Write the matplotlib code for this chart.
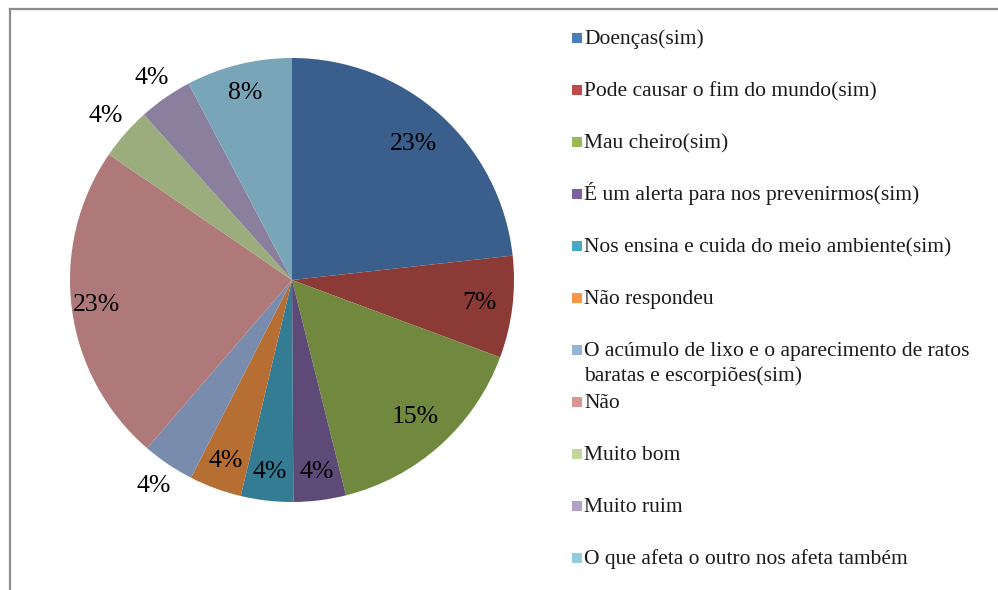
import matplotlib
matplotlib.use("Agg")
import matplotlib.pyplot as plt
import numpy as np
from matplotlib.lines import Line2D
from matplotlib.patches import Rectangle

labels = [
    "Doenças(sim)",
    "Pode causar o fim do mundo(sim)",
    "Mau cheiro(sim)",
    "É um alerta para nos prevenirmos(sim)",
    "Nos ensina e cuida do meio ambiente(sim)",
    "Não respondeu",
    "O acúmulo de lixo e o aparecimento de ratos\nbaratas e escorpiões(sim)",
    "Não",
    "Muito bom",
    "Muito ruim",
    "O que afeta o outro nos afeta também",
]
values = [23.2, 7.4, 15.4, 3.8, 3.8, 3.8, 3.8, 23.2, 3.8, 3.9, 7.7]

wedge_colors = ["#3B5F8C", "#8B3A36", "#71893F", "#5E4A77", "#347C93", "#B76E32",
                "#7A8CAD", "#AE7978", "#9CAD7D", "#8B7F9E", "#78A5B8"]
legend_colors = ["#4A7EBB", "#BE4B48", "#98B954", "#7D60A0", "#46AAC5", "#F79646",
                 "#95B3D7", "#D99694", "#C3D69B", "#B2A2C7", "#93CDDD"]
label_dist = [0.82, 0.85, 0.83, 0.87, 0.87, 0.87, 1.12, 0.89, 1.12, 1.11, 0.87]

W, H = 998, 590
fig = plt.figure(figsize=(W / 100, H / 100), dpi=100)
fig.patch.set_facecolor("white")

cx, cy, R = 292, 280, 222
ax = fig.add_axes([(cx - R) / W, (H - cy - R) / H, 2 * R / W, 2 * R / H])
wedges, _ = ax.pie(values, colors=wedge_colors, startangle=90, counterclock=False,
                   radius=1, wedgeprops=dict(linewidth=0))
ax.set_xlim(-1, 1)
ax.set_ylim(-1, 1)
ax.axis("off")

for w, v, d in zip(wedges, values, label_dist):
    th = np.deg2rad((w.theta1 + w.theta2) / 2)
    ax.text(d * np.cos(th), d * np.sin(th), f"{round(v)}%", ha="center", va="center",
            fontsize=18.5, family="Liberation Serif", color="black")

# legend drawn manually
for i, (lab, c) in enumerate(zip(labels, legend_colors)):
    y = 38 + 52 * i
    fig.add_artist(Rectangle((572 / W, 1 - (y + 4.5) / H), 9.5 / W, 9.5 / H,
                             transform=fig.transFigure, facecolor=c, edgecolor="none"))
    for k, line in enumerate(lab.split("\n")):
        fig.text(584 / W, 1 - (y + 6 + 25 * k) / H, line, ha="left", va="baseline",
                 fontsize=15.5, family="Liberation Serif", color="#1a1a1a")

# chart border (cropped)
fig.add_artist(Line2D([10 / W, 1.0], [1 - 9 / H, 1 - 9 / H], transform=fig.transFigure,
                      color="#8C8C8C", linewidth=1.6))
fig.add_artist(Line2D([10 / W, 10 / W], [0.0, 1 - 9 / H], transform=fig.transFigure,
                      color="#8C8C8C", linewidth=1.6))

fig.savefig("out.png", dpi=100)
